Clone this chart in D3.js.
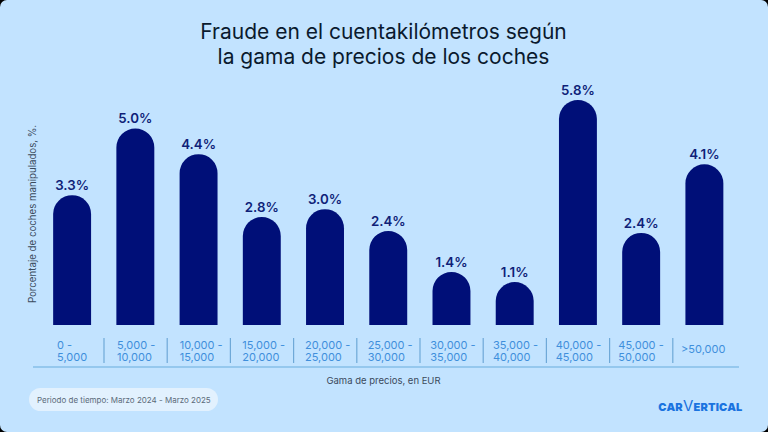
<!DOCTYPE html>
<html>
<head>
<meta charset="utf-8">
<script src="https://cdn.jsdelivr.net/npm/d3@7/dist/d3.min.js"></script>
<style>
html,body{margin:0;padding:0;background:#000;width:768px;height:432px;overflow:hidden}
svg{display:block}
text{font-family:Inter,"Noto Sans",sans-serif}
</style>
</head>
<body>
<svg id="chart" width="768" height="432"></svg>
<script>
const titleLines = ["Fraude en el cuentakilómetros según", "la gama de precios de los coches"];
const categories = [["0 -","5,000"],["5,000 -","10,000"],["10,000 -","15,000"],["15,000 -","20,000"],["20,000 -","25,000"],["25,000 -","30,000"],["30,000 -","35,000"],["35,000 -","40,000"],["40,000 -","45,000"],["45,000 -","50,000"],[">50,000"]];
const values = [3.33,5.04,4.38,2.77,2.97,2.41,1.36,1.10,5.77,2.36,4.12];
const yAxisTitle = "Porcentaje de coches manipulados, %.";
const xAxisTitle = "Gama de precios, en EUR";
const periodNote = "Periodo de tiempo: Marzo 2024 - Marzo 2025";
const brandParts = ["CAR","V","ERTICAL"];

const svg = d3.select("#chart");
svg.append("rect").attr("width",768).attr("height",432).attr("rx",7).attr("fill","#c2e3ff");

const keys = categories.map((_,i)=>i);
const x = d3.scaleBand().domain(keys).range([40.5,736]).paddingInner(0.4).paddingOuter(0.2);
const y = d3.scaleLinear().domain([0,6]).range([325,91]);
const labelX = d3.scaleLinear().domain([1,10]).range([117,681]);
const sepX = d3.scaleLinear().domain([1,10]).range([104,672.8]);
const bw = x.bandwidth();

// title
svg.append("g").selectAll("text").data(titleLines).join("text")
  .attr("x",383.5).attr("y",(d,i)=>38.5+i*25).attr("text-anchor","middle")
  .attr("font-size",21).attr("font-weight",400).attr("fill","#0a1a2e").text(d=>d);

// bars
const barPath = d=>{
  const l=x(d.i), r=l+bw, t=y(d.v), b=y(0), rad=bw/2;
  const p=d3.path();
  p.moveTo(l,b); p.lineTo(l,t+rad); p.arc(l+rad,t+rad,rad,Math.PI,0); p.lineTo(r,b); p.closePath();
  return p.toString();
};
const rows = values.map((v,i)=>({v,i}));
svg.append("g").selectAll("path").data(rows).join("path").attr("d",barPath).attr("fill","#000f78");
svg.append("g").selectAll("text").data(rows).join("text")
  .attr("x",d=>x(d.i)+bw/2).attr("y",d=>y(d.v)-5).attr("text-anchor","middle")
  .attr("font-size",13.3).attr("font-weight",600).attr("fill","#0f1f78")
  .text(d=>d.v.toFixed(1)+"%");

// category labels
svg.append("g").selectAll("text").data(categories).join("text")
  .attr("font-size",11).attr("fill","#3f8fdc").attr("text-anchor","start")
  .each(function(d,i){
    const left = i===0 ? 57 : labelX(i);
    d3.select(this).selectAll("tspan").data(d).join("tspan").attr("x",left)
      .attr("y",(s,k)=>d.length===1?353:348.5+k*12.6).text(s=>s);
  });
// separators
svg.append("g").selectAll("line").data(keys.slice(1)).join("line")
  .attr("x1",i=>sepX(i)).attr("x2",i=>sepX(i))
  .attr("y1",338).attr("y2",363).attr("stroke","#6fa9d8").attr("stroke-width",1.2);
// axis line
svg.append("line").attr("x1",33).attr("x2",739).attr("y1",367).attr("y2",367).attr("stroke","#69aede").attr("stroke-width",1.2);

svg.append("text").attr("x",383.5).attr("y",384).attr("text-anchor","middle")
  .attr("font-size",9.5).attr("fill","#3a4a5c").text(xAxisTitle);
svg.append("text").attr("transform","translate(36,214) rotate(-90)").attr("text-anchor","middle")
  .attr("font-size",9.7).attr("fill","#3a4a5c").text(yAxisTitle);

svg.append("rect").attr("x",29).attr("y",388).attr("width",189).attr("height",23).attr("rx",11.5).attr("fill","#e2f1fe");
svg.append("text").attr("x",37).attr("y",403).attr("font-size",8).attr("fill","#5c6b7a").text(periodNote);

const brandText = svg.append("text").attr("x",742.5).attr("y",411).attr("text-anchor","end")
  .attr("letter-spacing",0.2).attr("fill","#1a73e0");
brandText.selectAll("tspan").data(brandParts).join("tspan")
  .attr("font-size",(d,i)=>i===1?15:11)
  .attr("font-weight",(d,i)=>i===1?400:900)
  .text(d=>d);
</script>
</body>
</html>
